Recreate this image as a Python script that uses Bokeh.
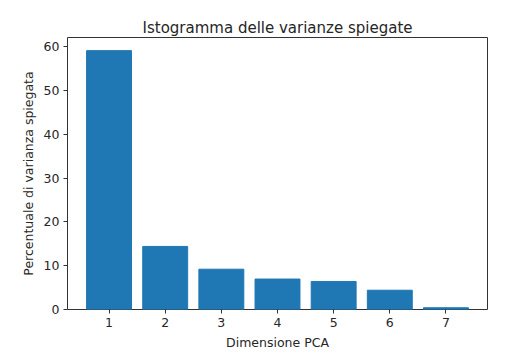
from bokeh.plotting import figure
from bokeh.models import Range1d, FixedTicker
from bokeh.embed import file_html
from bokeh.resources import INLINE

dims = [1, 2, 3, 4, 5, 6, 7]
varianza = [59.1, 14.4, 9.2, 6.95, 6.4, 4.4, 0.4]
x_ticks = [1, 2, 3, 4, 5, 6, 7]
y_ticks = [0, 10, 20, 30, 40, 50, 60]

FONT = "DejaVu Sans"
TXT = "#262626"

p = figure(width=511, height=355, output_backend="svg", toolbar_location=None,
           x_range=Range1d(0.26, 7.74), y_range=Range1d(0, 62.1),
           min_border_left=67, min_border_right=24, min_border_top=37, min_border_bottom=46,
           title="Istogramma delle varianze spiegate")

p.vbar(x=dims, top=varianza, width=0.8, fill_color="#1f77b4", line_color="#1f77b4")

p.title.align = "center"
p.title.text_font = FONT
p.title.text_font_size = "15px"
p.title.text_font_style = "normal"
p.title.text_color = TXT
p.title.standoff = 2

p.xgrid.visible = False
p.ygrid.visible = False
p.outline_line_color = "#333333"
p.outline_line_width = 1
p.outline_line_alpha = 1

for ax in (p.xaxis[0], p.yaxis[0]):
    ax.axis_line_color = None
    ax.major_tick_line_color = "#333333"
    ax.major_tick_in = 0
    ax.major_tick_out = 4
    ax.minor_tick_line_color = None
    ax.major_label_text_font = FONT
    ax.major_label_text_font_size = "12.5px"
    ax.major_label_text_color = TXT
    ax.axis_label_text_font = FONT
    ax.axis_label_text_font_size = "12.5px"
    ax.axis_label_text_font_style = "normal"
    ax.axis_label_text_color = TXT
    ax.major_label_standoff = 4
    ax.axis_label_standoff = 5

p.xaxis.ticker = FixedTicker(ticks=x_ticks)
p.yaxis.ticker = FixedTicker(ticks=y_ticks)
p.xaxis.axis_label = "Dimensione PCA"
p.yaxis.axis_label = "Percentuale di varianza spiegata"

open("out.html", "w").write(file_html(p, INLINE))
